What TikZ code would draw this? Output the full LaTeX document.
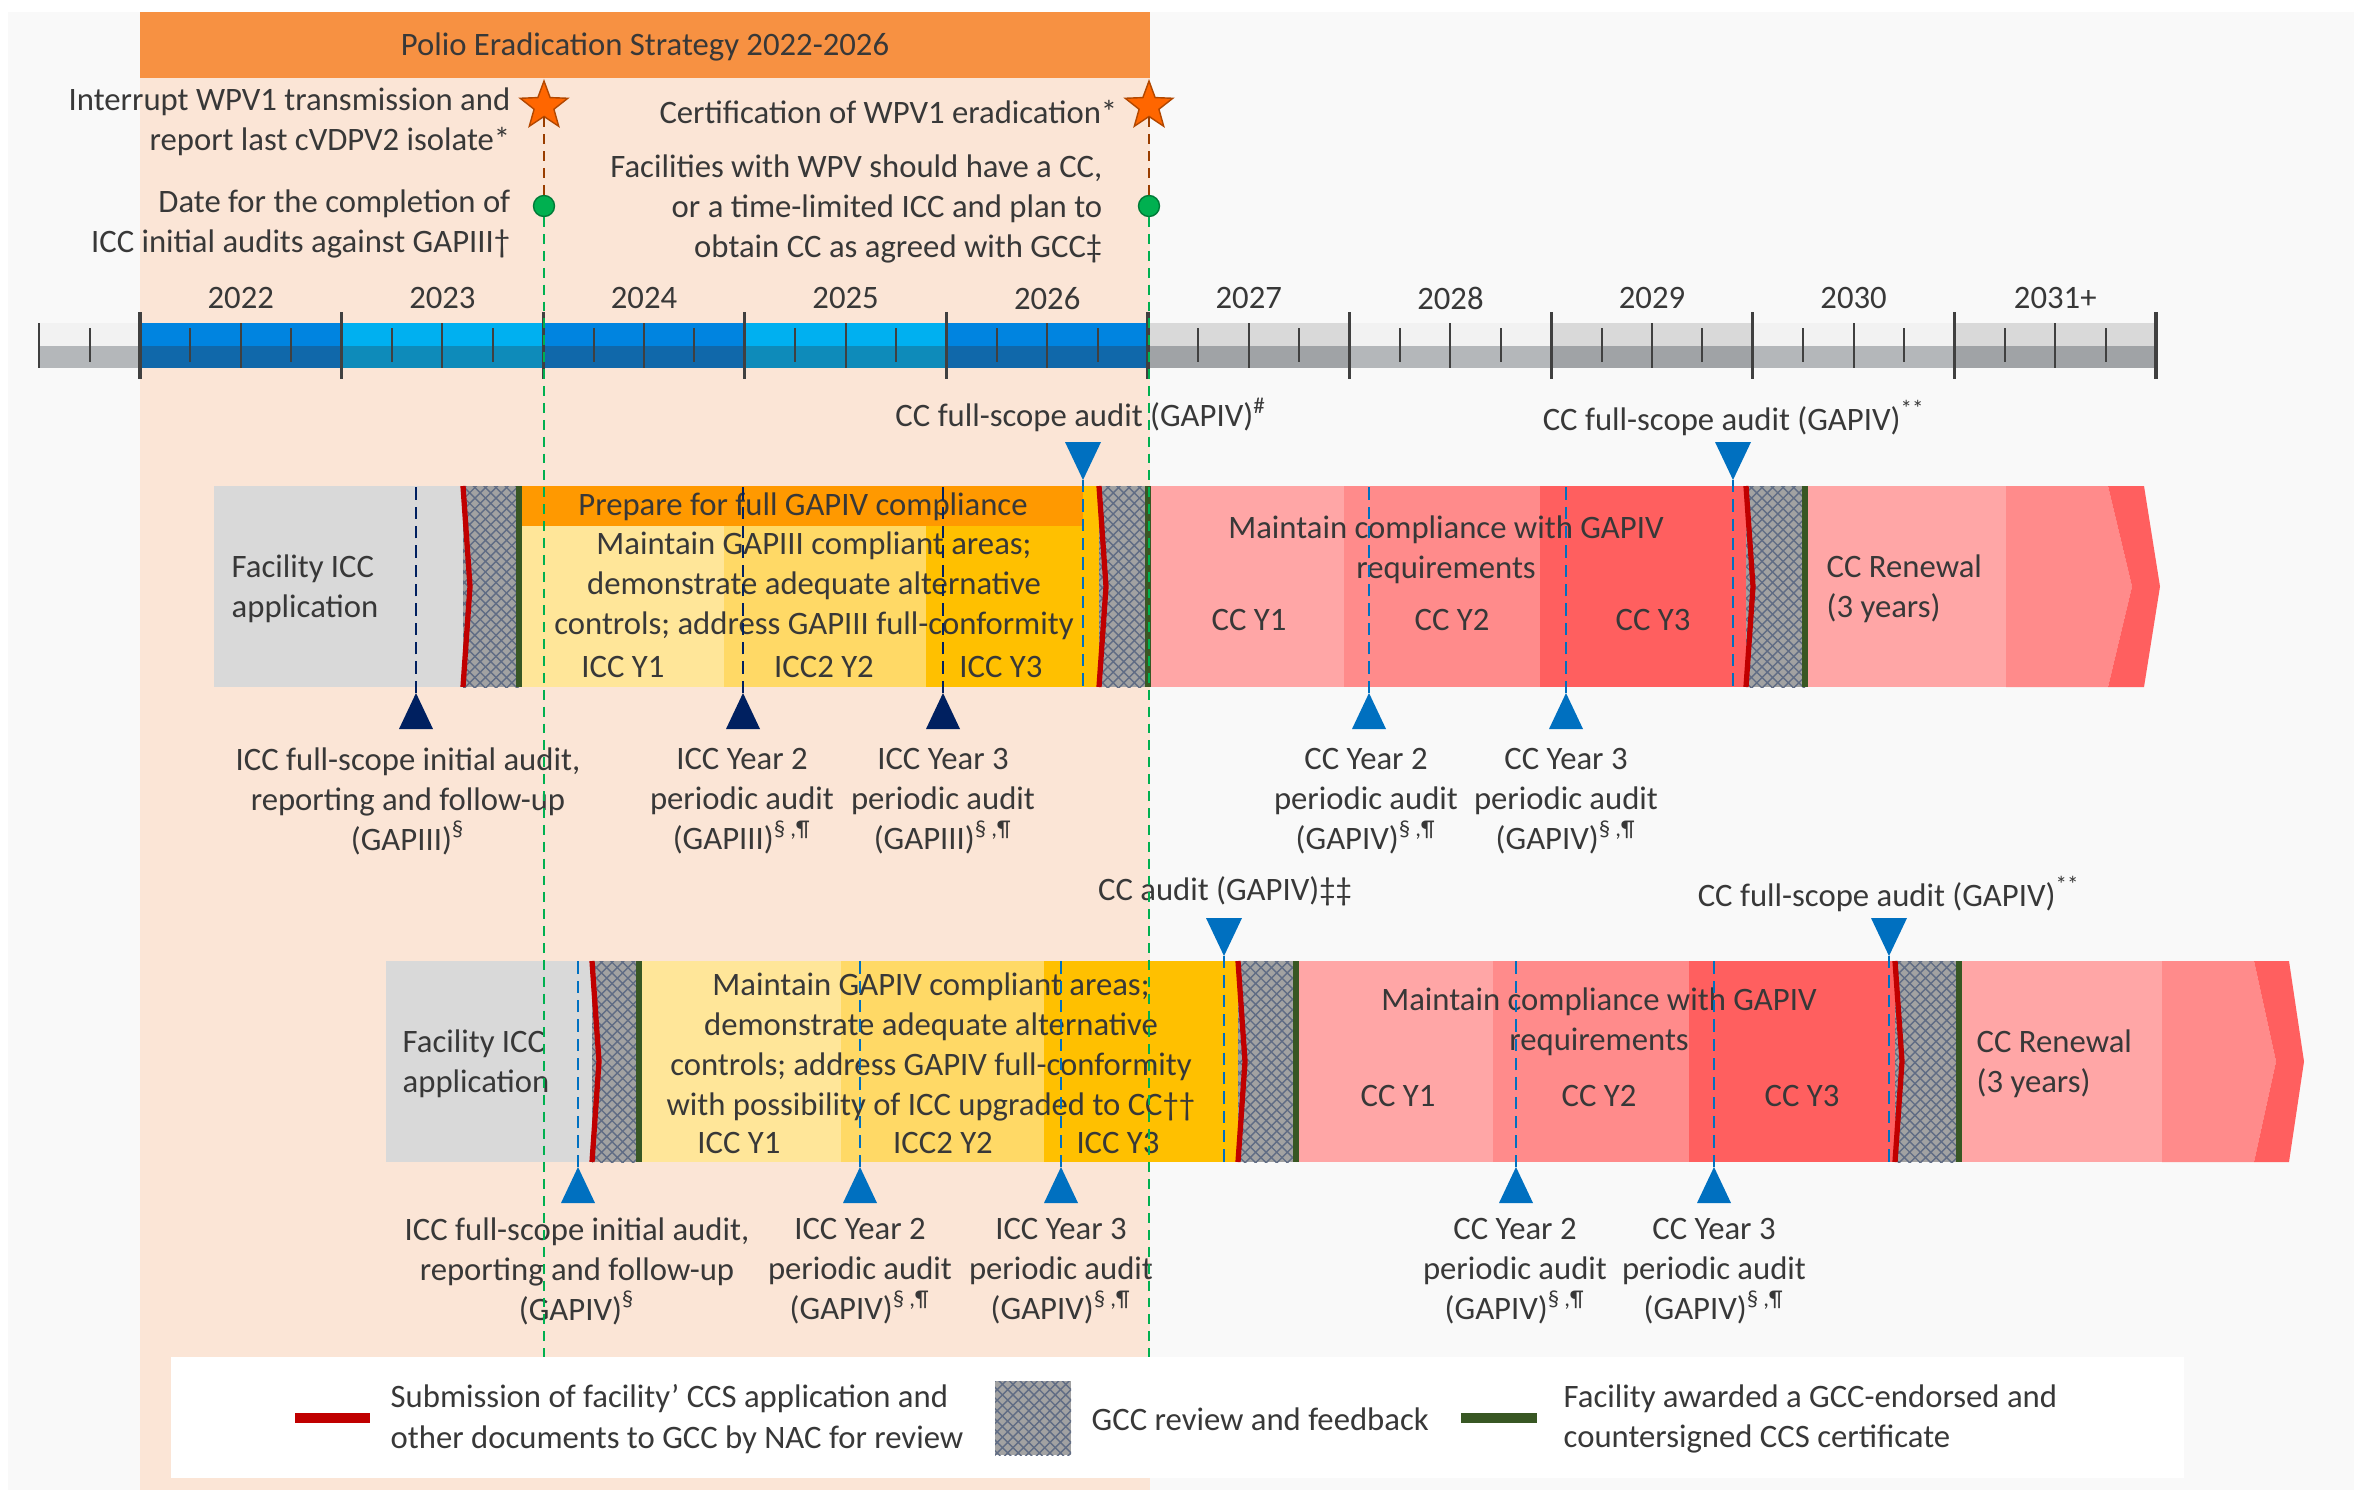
\documentclass[tikz,border=0pt]{standalone}
\usepackage{fontspec}
\setmainfont{Carlito}
\usetikzlibrary{shapes.geometric,patterns}

\definecolor{bgGrey}{RGB}{249,249,249}
\definecolor{peach}{RGB}{251,229,214}
\definecolor{headOrange}{RGB}{247,145,66}
\definecolor{prepOrange}{RGB}{255,153,0}
\definecolor{iccA}{RGB}{255,230,153}
\definecolor{iccB}{RGB}{255,217,102}
\definecolor{iccC}{RGB}{255,192,0}
\definecolor{ccA}{RGB}{255,166,166}
\definecolor{ccB}{RGB}{255,139,139}
\definecolor{ccC}{RGB}{255,95,95}
\definecolor{appGrey}{RGB}{217,217,217}
\definecolor{subRed}{RGB}{192,0,0}
\definecolor{awardGreen}{RGB}{56,87,35}
\definecolor{hatchGrey}{RGB}{162,162,162}
\definecolor{hatchLine}{RGB}{96,108,132}
\definecolor{auditBlue}{RGB}{0,112,192}
\definecolor{auditNavy}{RGB}{0,32,96}
\definecolor{starOrange}{RGB}{255,102,0}
\definecolor{dotGreen}{RGB}{0,176,80}
\definecolor{txtGrey}{RGB}{56,56,56}
\definecolor{tickGrey}{RGB}{64,64,64}
\definecolor{blueTopA}{RGB}{0,132,224}
\definecolor{blueBotA}{RGB}{16,104,170}
\definecolor{blueTopB}{RGB}{0,176,240}
\definecolor{blueBotB}{RGB}{14,139,186}
\definecolor{greyTopA}{RGB}{217,217,217}
\definecolor{greyBotA}{RGB}{160,163,166}
\definecolor{greyTopB}{RGB}{242,242,242}
\definecolor{greyBotB}{RGB}{180,183,186}

\begin{document}
\begin{tikzpicture}[x=0.01cm,y=-0.01cm,
    txt/.style={font=\fontsize{9.3}{11.4}\selectfont,text=txtGrey,inner sep=0pt,align=center,yshift=-0.6pt},
    tick/.style={draw=tickGrey,line width=0.6pt},
    auditDash/.style={line width=0.6pt,dash pattern=on 3.5pt off 2pt},
    mileDash/.style={line width=0.6pt,dash pattern=on 2.8pt off 2pt},
    hatch/.style={pattern=crosshatch,pattern color=hatchLine}]
        \def\yearW{201.6}
        \def\tlLeft{140}
        \def\tlTop{323}
        \def\tlMid{345.5}
        \def\tlBot{368}
        \def\review#1#2#3#4{%
            \pgfmathsetmacro\midY{(#3+#4)/2}
            \fill[hatchGrey] (#1,#3) rectangle (#2,#4);
            \fill[hatch] (#1,#3) rectangle (#2,#4);
            \draw[subRed,line width=1.5pt] (#1,#3) -- (#1+7,\midY) -- (#1,#4);
            \draw[awardGreen,line width=1.6pt] (#2,#3) -- (#2,#4);
        }
        \useasboundingbox (0,0) rectangle (2354,1490);
        \fill[bgGrey] (8,12) rectangle (2354,1490);
        \fill[peach] (140,78) rectangle (1150,1490);
        \fill[headOrange] (140,12) rectangle (1150,78);
        \node[txt] (title) at (645,45) {Polio Eradication Strategy 2022-2026};

        \node[txt,anchor=east,align=right] (interrupt) at (511,120) {Interrupt WPV1 transmission and\\report last cVDPV2 isolate*};
        \node[txt,anchor=east,align=right] (completion) at (511,222) {Date for the completion of\\ICC initial audits against GAPIII\textdagger};
        \node[txt,anchor=east,align=right] (certify) at (1118,110) {Certification of WPV1 eradication*};
        \node[txt,anchor=east,align=right] (facilities) at (1103,207) {Facilities with WPV should have a CC,\\or a time-limited ICC and plan to\\obtain CC as agreed with GCC\textdaggerdbl};

        \fill[greyTopB] (\tlLeft-\yearW/2,\tlTop) rectangle (\tlLeft,\tlMid);
        \fill[greyBotB] (\tlLeft-\yearW/2,\tlMid) rectangle (\tlLeft,\tlBot);
        \draw[tick] (\tlLeft-\yearW/2,\tlTop) -- (\tlLeft-\yearW/2,\tlBot);
        \draw[tick] (\tlLeft-\yearW/4,328) -- (\tlLeft-\yearW/4,362);
        \foreach \i/\lab in {0/2022,1/2023,2/2024,3/2025,4/2026,5/2027,6/2028,7/2029,8/2030,9/2031+} {
            \pgfmathsetmacro\xa{\tlLeft+\i*\yearW}
            \pgfmathtruncatemacro\odd{mod(\i,2)}
            \ifnum\i<5
                \ifnum\odd=0 \def\cTop{blueTopA}\def\cBot{blueBotA}\else \def\cTop{blueTopB}\def\cBot{blueBotB}\fi
            \else
                \ifnum\odd=1 \def\cTop{greyTopA}\def\cBot{greyBotA}\else \def\cTop{greyTopB}\def\cBot{greyBotB}\fi
            \fi
            \fill[\cTop] (\xa,\tlTop) rectangle (\xa+\yearW,\tlMid);
            \fill[\cBot] (\xa,\tlMid) rectangle (\xa+\yearW,\tlBot);
            \draw[tick] (\xa+\yearW/4,328) -- (\xa+\yearW/4,362);
            \draw[tick] (\xa+\yearW/2,\tlTop) -- (\xa+\yearW/2,\tlBot);
            \draw[tick] (\xa+3*\yearW/4,328) -- (\xa+3*\yearW/4,362);
            \node[txt] (yr\i) at (\xa+\yearW/2,296) {\lab};
        }
        \foreach \i in {0,...,10}
            \draw[tick,line width=0.9pt] (\tlLeft+\i*\yearW,312) -- (\tlLeft+\i*\yearW,379);

        \fill[appGrey] (214,486) rectangle (466,687);
        \fill[prepOrange] (521,486) rectangle (1083,526);
        \fill[iccA] (521,526) rectangle (724,687);
        \fill[iccB] (724,526) rectangle (926,687);
        \fill[iccC] (926,526) rectangle (1100,687);
        \fill[iccC] (1083,486) rectangle (1100,526);
        \fill[ccA] (1150,486) rectangle (1344,687);
        \fill[ccB] (1344,486) rectangle (1540,687);
        \fill[ccC] (1540,486) rectangle (1746,687);
        \fill[ccA] (1807,486) rectangle (2006,687);
        \fill[ccB] (2006,486) -- (2108,486) -- (2132,586.5) -- (2108,687) -- (2006,687) -- cycle;
        \fill[ccC] (2108,486) -- (2144,486) -- (2160,586.5) -- (2144,687) -- (2108,687) -- (2132,586.5) -- cycle;
        \review{463}{519}{486}{687}
        \review{1099}{1148}{486}{687}
        \review{1746}{1805}{486}{687}

        \node[txt,anchor=west,align=left] (appA) at (231,587) {Facility ICC\\application};
        \node[txt] (prepare) at (803,505) {Prepare for full GAPIV compliance};
        \node[txt] (maintainA) at (814,584) {Maintain GAPIII compliant areas;\\demonstrate adequate alternative\\controls; address GAPIII full-conformity};
        \node[txt] (iccYA) at (623,665) {ICC Y1};
        \node[txt] (iccYB) at (824,665) {ICC2 Y2};
        \node[txt] (iccYC) at (1001,665) {ICC Y3};
        \node[txt] (keepA) at (1446,548) {Maintain compliance with GAPIV\\requirements};
        \node[txt] (ccYA) at (1249,618) {CC Y1};
        \node[txt] (ccYB) at (1452,618) {CC Y2};
        \node[txt] (ccYC) at (1653,618) {CC Y3};
        \node[txt,anchor=west,align=left] (renewA) at (1826,587) {CC Renewal\\(3 years)};

        \fill[appGrey] (386,961) rectangle (595,1162);
        \fill[iccA] (641,961) rectangle (841,1162);
        \fill[iccB] (841,961) rectangle (1044,1162);
        \fill[iccC] (1044,961) rectangle (1240,1162);
        \fill[ccA] (1297,961) rectangle (1493,1162);
        \fill[ccB] (1493,961) rectangle (1689,1162);
        \fill[ccC] (1689,961) rectangle (1896,1162);
        \fill[ccA] (1960,961) rectangle (2162,1162);
        \fill[ccB] (2162,961) -- (2254,961) -- (2276,1061.5) -- (2254,1162) -- (2162,1162) -- cycle;
        \fill[ccC] (2254,961) -- (2289,961) -- (2304,1061.5) -- (2289,1162) -- (2254,1162) -- (2276,1061.5) -- cycle;
        \review{592}{639}{961}{1162}
        \review{1238}{1296}{961}{1162}
        \review{1895}{1959}{961}{1162}

        \node[txt,anchor=west,align=left] (appB) at (402,1062) {Facility ICC\\application};
        \node[txt] (maintainB) at (931,1045) {Maintain GAPIV compliant areas;\\demonstrate adequate alternative\\controls; address GAPIV full-conformity\\with possibility of ICC upgraded to CC\textdagger\textdagger};
        \node[txt] (iccYD) at (739,1141) {ICC Y1};
        \node[txt] (iccYE) at (943,1141) {ICC2 Y2};
        \node[txt] (iccYF) at (1118,1141) {ICC Y3};
        \node[txt] (keepB) at (1599,1020) {Maintain compliance with GAPIV\\requirements};
        \node[txt] (ccYD) at (1398,1094) {CC Y1};
        \node[txt] (ccYE) at (1599,1094) {CC Y2};
        \node[txt] (ccYF) at (1802,1094) {CC Y3};
        \node[txt,anchor=west,align=left] (renewB) at (1976,1062) {CC Renewal\\(3 years)};

        \foreach \x/\c/\top/\tipY in {416/auditNavy/486/693,743/auditNavy/486/693,943/auditNavy/486/693,1369/auditBlue/486/693,1566/auditBlue/486/693,578/auditBlue/961/1167,860/auditBlue/961/1167,1061/auditBlue/961/1167,1516/auditBlue/961/1167,1714/auditBlue/961/1167} {
            \coordinate (upTip\x) at (\x,\tipY);
            \coordinate (upEnd\x) at (\x,\top);
            \draw[auditDash,\c] (upTip\x) -- (upEnd\x);
            \fill[\c] (upTip\x) -- ++(17,36) -- ++(-34,0) -- cycle;
        }
        \foreach \x/\bot/\tipY in {1083/687/480,1733/687/480,1224/1162/956,1889/1162/956} {
            \coordinate (dnTip\x) at (\x,\tipY);
            \coordinate (dnEnd\x) at (\x,\bot);
            \draw[auditDash,auditBlue] (dnTip\x) -- (dnEnd\x);
            \fill[auditBlue] (dnTip\x) -- ++(18,-38) -- ++(-36,0) -- cycle;
        }

        \node[txt] (fullA) at (1081,413) {CC full-scope audit (GAPIV)\textsuperscript{\#}};
        \node[txt] (fullB) at (1734,416) {CC full-scope audit (GAPIV)\textsuperscript{**}};
        \node[txt] (ccAudit) at (1225,889) {CC audit (GAPIV)\textdaggerdbl\textdaggerdbl};
        \node[txt] (fullC) at (1889,892) {CC full-scope audit (GAPIV)\textsuperscript{**}};

        \foreach \x/\lab in {408/{ICC full-scope initial audit,\\reporting and follow-up\\(GAPIII)\textsuperscript{§}},742/{ICC Year 2\\periodic audit\\(GAPIII)\textsuperscript{§ ,¶}},943/{ICC Year 3\\periodic audit\\(GAPIII)\textsuperscript{§ ,¶}},1366/{CC Year 2\\periodic audit\\(GAPIV)\textsuperscript{§ ,¶}},1566/{CC Year 3\\periodic audit\\(GAPIV)\textsuperscript{§ ,¶}}}
            \node[txt] (noteA\x) at (\x,799) {\lab};
        \foreach \x/\lab in {577/{ICC full-scope initial audit,\\reporting and follow-up\\(GAPIV)\textsuperscript{§}},860/{ICC Year 2\\periodic audit\\(GAPIV)\textsuperscript{§ ,¶}},1061/{ICC Year 3\\periodic audit\\(GAPIV)\textsuperscript{§ ,¶}},1515/{CC Year 2\\periodic audit\\(GAPIV)\textsuperscript{§ ,¶}},1714/{CC Year 3\\periodic audit\\(GAPIV)\textsuperscript{§ ,¶}}}
            \node[txt] (noteB\x) at (\x,1269) {\lab};

        \foreach \x/\n in {544/A,1149/B} {
            \node[star,star points=5,star point ratio=2.4,minimum size=0.5cm,inner sep=0pt,fill=starOrange,draw=starOrange!70!black,line width=0.4pt] (star\n) at (\x,106) {};
            \node[circle,minimum size=0.21cm,inner sep=0pt,fill=dotGreen,draw=dotGreen!70!black,line width=0.4pt] (dot\n) at (\x,206) {};
            \coordinate (end\n) at (\x,1357);
            \draw[mileDash,starOrange!60!black] (star\n) -- (dot\n);
            \draw[mileDash,dotGreen] (dot\n) -- (end\n);
        }

        \fill[white] (171,1357) rectangle (2184,1478);
        \fill[subRed] (295,1413) rectangle (370,1423);
        \node[txt,anchor=west,align=left] (keySub) at (390,1417) {Submission of facility’ CCS application and\\other documents to GCC by NAC for review};
        \fill[hatchGrey] (995,1381) rectangle (1071,1455);
        \fill[hatch] (995,1381) rectangle (1071,1455);
        \node[txt,anchor=west] (keyReview) at (1091,1417) {GCC review and feedback};
        \fill[awardGreen] (1461,1413) rectangle (1537,1423);
        \node[txt,anchor=west,align=left] (keyAward) at (1563,1417) {Facility awarded a GCC-endorsed and\\countersigned CCS certificate};
    \end{tikzpicture}
\end{document}
